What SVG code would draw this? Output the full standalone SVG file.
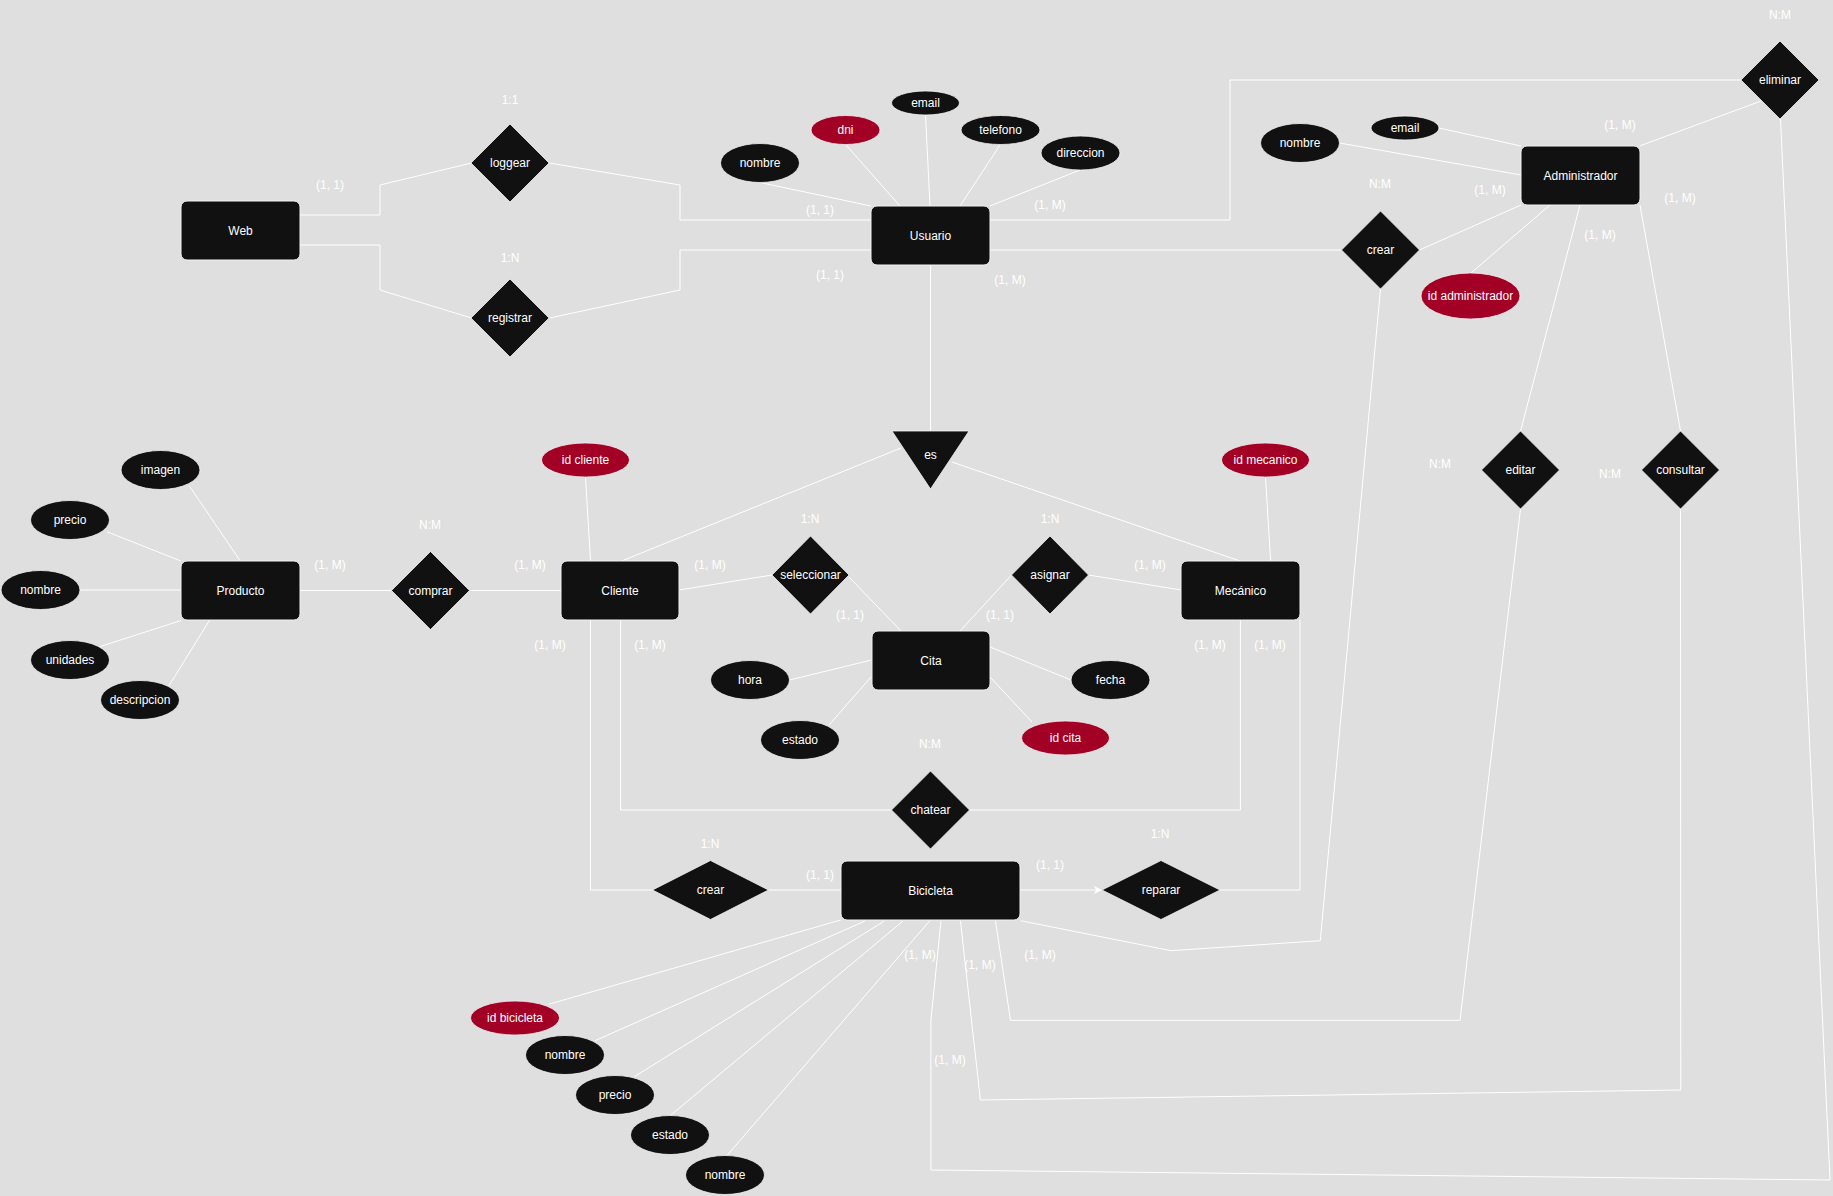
<svg xmlns="http://www.w3.org/2000/svg" width="1833" height="1196" viewBox="0 0 1833 1196">
<style>
.bg{fill:#dfdfdf}
.ent{fill:#111111;stroke:#f2f2f2;stroke-width:1}
.rel{fill:#111111;stroke:#f2f2f2;stroke-width:0.8}
.att{fill:#111111;stroke:#f2f2f2;stroke-width:0.8}
.key{fill:#a20025;stroke:#f2f2f2;stroke-width:0.8}
.t{font-family:"Liberation Sans",Arial,sans-serif;font-size:12px;fill:#ffffff;text-anchor:middle;dominant-baseline:central}
.c{fill:none;stroke:#ffffff;stroke-width:1}
</style>
<defs>
<marker id="arr" viewBox="0 0 10 10" refX="9" refY="5" markerWidth="8" markerHeight="8" markerUnits="userSpaceOnUse" orient="auto">
<path d="M0,0 L10,5 L0,10 L3,5 Z" fill="#ffffff"/>
</marker>
</defs>
<rect class="bg" x="0" y="0" width="1833" height="1196"/>

<g id="connectors">
<path class="c" d="M300,215 L380,215 L380,185 L471.5,163"/>
<path class="c" d="M300,245 L380,245 L380,290 L471.5,318"/>
<path class="c" d="M549.5,163 L680,185 L680,220 L871,220"/>
<path class="c" d="M549.5,318 L680,290 L680,250 L871,250"/>
<path class="c" d="M760,182.5 L871,206"/>
<path class="c" d="M846,145 L900,206"/>
<path class="c" d="M925.5,115 L930,206"/>
<path class="c" d="M1000,145 L960,206"/>
<path class="c" d="M1080,170 L990,206"/>
<path class="c" d="M990,220 L1230,220 L1230,80 L1741.5,80"/>
<path class="c" d="M990,250 L1341.5,250"/>
<path class="c" d="M930.5,265 L930.5,431"/>
<path class="c" d="M1439,128 L1521,146"/>
<path class="c" d="M1339.5,143 L1521,175"/>
<path class="c" d="M1471,273 L1550,205"/>
<path class="c" d="M1639.6,146 L1761,101"/>
<path class="c" d="M1521,205 L1419.5,250"/>
<path class="c" d="M1580,205 L1520.5,431"/>
<path class="c" d="M1640,205 L1680.5,431"/>
<path class="c" d="M901,448 L621.6,561"/>
<path class="c" d="M952,462 L1240,561"/>
<path class="c" d="M585.5,477 L590.5,561"/>
<path class="c" d="M1265.5,477 L1270.6,561"/>
<path class="c" d="M189.4,486 L240.3,561"/>
<path class="c" d="M106.8,531.7 L181,561"/>
<path class="c" d="M80,590 L181,590"/>
<path class="c" d="M98.7,647 L181,620.5"/>
<path class="c" d="M168.4,686.7 L209.7,620"/>
<path class="c" d="M300,590.5 L391.5,590.5"/>
<path class="c" d="M469.5,590.5 L561,590.5"/>
<path class="c" d="M679.3,590 L772,575"/>
<path class="c" d="M849,577 L901,631"/>
<path class="c" d="M960,631 L1011.5,575"/>
<path class="c" d="M1088.5,575 L1181.3,590"/>
<path class="c" d="M789.5,680 L871.6,660"/>
<path class="c" d="M829,725 L871,677"/>
<path class="c" d="M1071,680 L990,647"/>
<path class="c" d="M1032,722 L990,677"/>
<path class="c" d="M620.6,620 L620.6,810 L891.5,810"/>
<path class="c" d="M1240.4,620 L1240.4,810 L969.5,810"/>
<path class="c" d="M590.5,620 L590.5,890 L652.5,890"/>
<path class="c" d="M768.5,890 L841,890"/>
<path class="c" d="M1019.6,890 L1101,890" marker-end="url(#arr)"/>
<path class="c" d="M1220,890 L1300,890 L1300,620"/>
<path class="c" d="M548.7,1004.3 L840.6,920"/>
<path class="c" d="M595,1040.7 L865,921"/>
<path class="c" d="M634.4,1076.7 L884.3,921"/>
<path class="c" d="M671,1115 L903,921"/>
<path class="c" d="M727,1155.5 L930,920.5"/>
<path class="c" d="M1020.5,920.7 L1171,950.7 L1320.3,940.7 L1380.5,289"/>
<path class="c" d="M995.5,921 L1010.5,1020.3 L1460,1020.3 L1520.5,509"/>
<path class="c" d="M960.4,920.7 L980.4,1100 L1680.8,1090 L1680.5,509"/>
<path class="c" d="M941,920.7 L930.9,1020 L930.9,1170 L1830,1180 L1780.5,119"/>
</g>

<g id="Web"><rect class="ent" x="181" y="201" width="119" height="59" rx="6"/><text class="t" x="240.5" y="230.5">Web</text></g>
<g id="Usuario"><rect class="ent" x="871" y="206" width="119" height="59" rx="6"/><text class="t" x="930.5" y="235.5">Usuario</text></g>
<g id="Administrador"><rect class="ent" x="1521" y="146" width="119" height="59" rx="6"/><text class="t" x="1580.5" y="175.5">Administrador</text></g>
<g id="Producto"><rect class="ent" x="181" y="561" width="119" height="59" rx="6"/><text class="t" x="240.5" y="590.5">Producto</text></g>
<g id="Cliente"><rect class="ent" x="561" y="561" width="118" height="59" rx="6"/><text class="t" x="620" y="590.5">Cliente</text></g>
<g id="Mecanico"><rect class="ent" x="1181" y="561" width="119" height="59" rx="6"/><text class="t" x="1240.5" y="590.5">Mecánico</text></g>
<g id="Cita"><rect class="ent" x="872" y="631" width="118" height="59" rx="6"/><text class="t" x="931" y="660.5">Cita</text></g>
<g id="Bicicleta"><rect class="ent" x="841" y="861" width="179" height="59" rx="6"/><text class="t" x="930.5" y="890.5">Bicicleta</text></g>

<g id="loggear"><polygon class="rel" points="510,124 549,163 510,202 471,163"/><text class="t" x="510" y="163">loggear</text></g>
<g id="registrar"><polygon class="rel" points="510,279 549,318 510,357 471,318"/><text class="t" x="510" y="318">registrar</text></g>
<g id="crear-admin"><polygon class="rel" points="1380.5,211 1419.5,250 1380.5,289 1341.5,250"/><text class="t" x="1380.5" y="250">crear</text></g>
<g id="eliminar"><polygon class="rel" points="1780,41 1819,80 1780,119 1741,80"/><text class="t" x="1780" y="80">eliminar</text></g>
<g id="editar"><polygon class="rel" points="1520.5,431 1559.5,470 1520.5,509 1481.5,470"/><text class="t" x="1520.5" y="470">editar</text></g>
<g id="consultar"><polygon class="rel" points="1680.5,431 1719.5,470 1680.5,509 1641.5,470"/><text class="t" x="1680.5" y="470">consultar</text></g>
<g id="comprar"><polygon class="rel" points="430.5,551.5 469.5,590.5 430.5,629.5 391.5,590.5"/><text class="t" x="430.5" y="590.5">comprar</text></g>
<g id="seleccionar"><polygon class="rel" points="810.5,536 849,575 810.5,614 772,575"/><text class="t" x="810.5" y="575">seleccionar</text></g>
<g id="asignar"><polygon class="rel" points="1050,536 1088.5,575 1050,614 1011.5,575"/><text class="t" x="1050" y="575">asignar</text></g>
<g id="chatear"><polygon class="rel" points="930.5,771 969.5,810 930.5,849 891.5,810"/><text class="t" x="930.5" y="810">chatear</text></g>
<g id="crear-bici"><polygon class="rel" points="710.5,860.5 768.5,890 710.5,919.5 652.5,890"/><text class="t" x="710.5" y="890">crear</text></g>
<g id="reparar"><polygon class="rel" points="1161,860.5 1220,890 1161,919.5 1102,890"/><text class="t" x="1161" y="890">reparar</text></g>
<g id="es"><polygon class="rel" points="892,431 969,431 930.5,489"/><text class="t" x="930.5" y="455">es</text></g>

<g id="usuario-nombre"><ellipse class="att" cx="760" cy="163" rx="39.5" ry="19.5"/><text class="t" x="760" y="163">nombre</text></g>
<g id="usuario-dni"><ellipse class="key" cx="845.5" cy="130" rx="34.5" ry="14.5"/><text class="t" x="845.5" y="130">dni</text></g>
<g id="usuario-email"><ellipse class="att" cx="925.5" cy="103" rx="34" ry="12"/><text class="t" x="925.5" y="103">email</text></g>
<g id="usuario-telefono"><ellipse class="att" cx="1000.5" cy="130" rx="39.5" ry="14.5"/><text class="t" x="1000.5" y="130">telefono</text></g>
<g id="usuario-direccion"><ellipse class="att" cx="1080.5" cy="153" rx="39.5" ry="17"/><text class="t" x="1080.5" y="153">direccion</text></g>

<g id="admin-email"><ellipse class="att" cx="1405" cy="128" rx="34" ry="12"/><text class="t" x="1405" y="128">email</text></g>
<g id="admin-nombre"><ellipse class="att" cx="1300" cy="143" rx="39.5" ry="19.5"/><text class="t" x="1300" y="143">nombre</text></g>
<g id="admin-id"><ellipse class="key" cx="1470.5" cy="296" rx="49.5" ry="23"/><text class="t" x="1470.5" y="296">id administrador</text></g>

<g id="producto-imagen"><ellipse class="att" cx="160.5" cy="470" rx="39.5" ry="19.5"/><text class="t" x="160.5" y="470">imagen</text></g>
<g id="producto-precio"><ellipse class="att" cx="70" cy="520" rx="39.5" ry="19.5"/><text class="t" x="70" y="520">precio</text></g>
<g id="producto-nombre"><ellipse class="att" cx="40.5" cy="590" rx="39.5" ry="19.5"/><text class="t" x="40.5" y="590">nombre</text></g>
<g id="producto-unidades"><ellipse class="att" cx="70" cy="660" rx="39.5" ry="19.5"/><text class="t" x="70" y="660">unidades</text></g>
<g id="producto-descripcion"><ellipse class="att" cx="140" cy="700" rx="39.5" ry="19.5"/><text class="t" x="140" y="700">descripcion</text></g>

<g id="cliente-id"><ellipse class="key" cx="585.5" cy="460" rx="44" ry="17"/><text class="t" x="585.5" y="460">id cliente</text></g>
<g id="mecanico-id"><ellipse class="key" cx="1265.5" cy="460" rx="44" ry="17"/><text class="t" x="1265.5" y="460">id mecanico</text></g>

<g id="cita-hora"><ellipse class="att" cx="750" cy="680" rx="39.5" ry="19.5"/><text class="t" x="750" y="680">hora</text></g>
<g id="cita-estado"><ellipse class="att" cx="800" cy="740" rx="39.5" ry="19.5"/><text class="t" x="800" y="740">estado</text></g>
<g id="cita-fecha"><ellipse class="att" cx="1110.5" cy="680" rx="39.5" ry="19.5"/><text class="t" x="1110.5" y="680">fecha</text></g>
<g id="cita-id"><ellipse class="key" cx="1065.5" cy="738" rx="44" ry="17"/><text class="t" x="1065.5" y="738">id cita</text></g>

<g id="bici-id"><ellipse class="key" cx="515" cy="1018" rx="44.5" ry="17"/><text class="t" x="515" y="1018">id bicicleta</text></g>
<g id="bici-nombre"><ellipse class="att" cx="565" cy="1055" rx="39.5" ry="19.5"/><text class="t" x="565" y="1055">nombre</text></g>
<g id="bici-precio"><ellipse class="att" cx="615" cy="1095" rx="39.5" ry="19.5"/><text class="t" x="615" y="1095">precio</text></g>
<g id="bici-estado"><ellipse class="att" cx="670" cy="1135" rx="39.5" ry="19.5"/><text class="t" x="670" y="1135">estado</text></g>
<g id="bici-nombre2"><ellipse class="att" cx="725" cy="1175" rx="39.5" ry="19.5"/><text class="t" x="725" y="1175">nombre</text></g>

<g id="labels">
<text class="t" x="510" y="100">1:1</text>
<text class="t" x="510" y="258">1:N</text>
<text class="t" x="330" y="185">(1, 1)</text>
<text class="t" x="820" y="210">(1, 1)</text>
<text class="t" x="830" y="275">(1, 1)</text>
<text class="t" x="1050" y="205">(1, M)</text>
<text class="t" x="1010" y="280">(1, M)</text>
<text class="t" x="1780" y="15">N:M</text>
<text class="t" x="1620" y="125">(1, M)</text>
<text class="t" x="1490" y="190">(1, M)</text>
<text class="t" x="1380" y="184">N:M</text>
<text class="t" x="1680" y="198">(1, M)</text>
<text class="t" x="1600" y="235">(1, M)</text>
<text class="t" x="1440" y="464">N:M</text>
<text class="t" x="1610" y="474">N:M</text>
<text class="t" x="430" y="525">N:M</text>
<text class="t" x="330" y="565">(1, M)</text>
<text class="t" x="530" y="565">(1, M)</text>
<text class="t" x="550" y="645">(1, M)</text>
<text class="t" x="810" y="519">1:N</text>
<text class="t" x="1050" y="519">1:N</text>
<text class="t" x="710" y="565">(1, M)</text>
<text class="t" x="850" y="615">(1, 1)</text>
<text class="t" x="1000" y="615">(1, 1)</text>
<text class="t" x="1150" y="565">(1, M)</text>
<text class="t" x="650" y="645">(1, M)</text>
<text class="t" x="1210" y="645">(1, M)</text>
<text class="t" x="1270" y="645">(1, M)</text>
<text class="t" x="930" y="744">N:M</text>
<text class="t" x="710" y="844">1:N</text>
<text class="t" x="820" y="875">(1, 1)</text>
<text class="t" x="1050" y="865">(1, 1)</text>
<text class="t" x="1160" y="834">1:N</text>
<text class="t" x="920" y="955">(1, M)</text>
<text class="t" x="980" y="965">(1, M)</text>
<text class="t" x="1040" y="955">(1, M)</text>
<text class="t" x="950" y="1060">(1, M)</text>
</g>
</svg>
